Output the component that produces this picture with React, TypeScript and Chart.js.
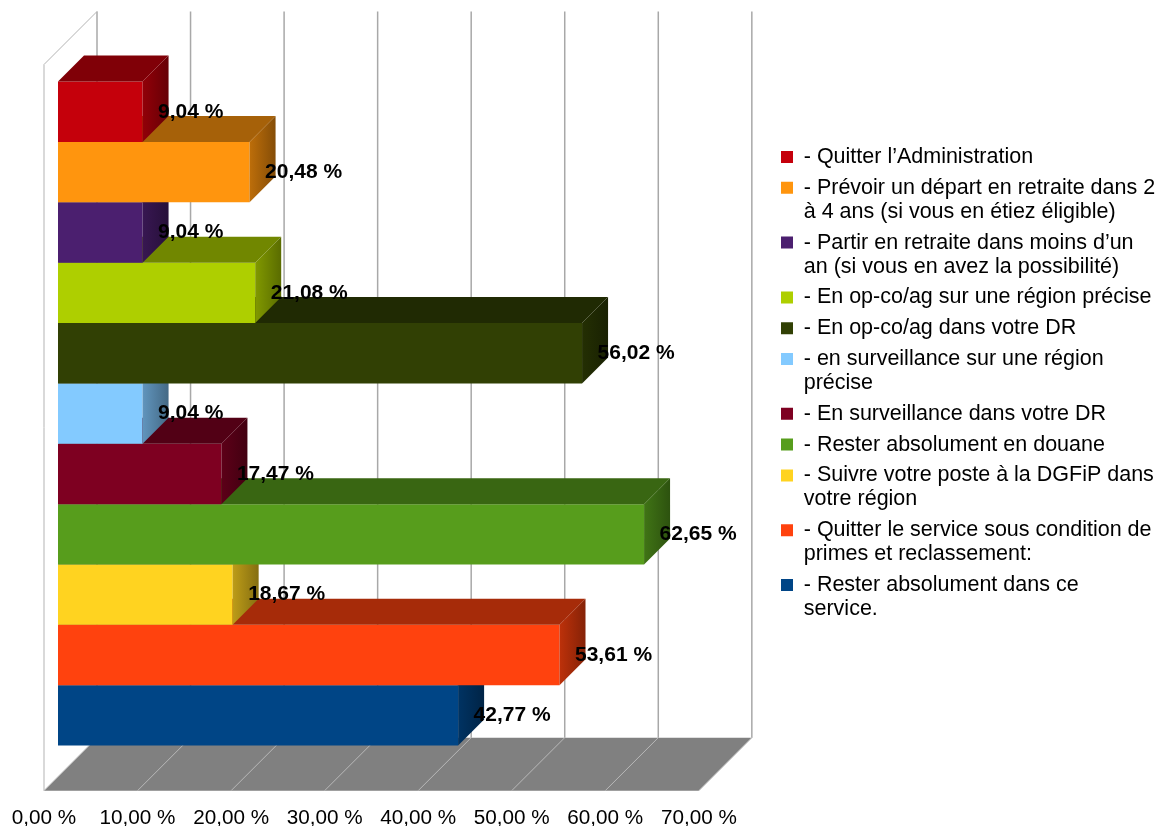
import { useEffect, useRef } from 'react';
import { Chart, registerables } from 'chart.js';

Chart.register(...registerables);

// ---- Data ----
const CATEGORIES = ['Réponses'];

const SERIES_LABELS = [
  '- Quitter l’Administration',
  '- Prévoir un départ en retraite dans 2 à 4 ans (si vous en étiez éligible)',
  '- Partir en retraite dans moins d’un an (si vous en avez la possibilité)',
  '- En op-co/ag sur une région précise',
  '- En op-co/ag dans votre DR',
  '- en surveillance sur une région précise',
  '- En surveillance dans votre DR',
  '- Rester absolument en douane',
  '- Suivre votre poste à la DGFiP dans votre région',
  '- Quitter le service sous condition de primes et reclassement:',
  '- Rester absolument dans ce service.',
];

const LEGEND_LINES = [
  ['- Quitter l’Administration'],
  ['- Prévoir un départ en retraite dans 2', 'à 4 ans (si vous en étiez éligible)'],
  ['- Partir en retraite dans moins d’un', 'an (si vous en avez la possibilité)'],
  ['- En op-co/ag sur une région précise'],
  ['- En op-co/ag dans votre DR'],
  ['- en surveillance sur une région', 'précise'],
  ['- En surveillance dans votre DR'],
  ['- Rester absolument en douane'],
  ['- Suivre votre poste à la DGFiP dans', 'votre région'],
  ['- Quitter le service sous condition de', 'primes et reclassement:'],
  ['- Rester absolument dans ce', 'service.'],
];

const SERIES_VALUES = [9.04, 20.48, 9.04, 21.08, 56.02, 9.04, 17.47, 62.65, 18.67, 53.61, 42.77];

const SERIES_COLORS = [
  '#c5000b',
  '#ff950e',
  '#4b1f6f',
  '#aecf00',
  '#314004',
  '#83caff',
  '#7e0021',
  '#579d1c',
  '#ffd320',
  '#ff420e',
  '#004586',
];

const X_TICK_MIN = 0;
const X_TICK_MAX = 70;
const X_TICK_STEP = 10;

// ---- Styling ----
const FONT = '"Liberation Sans", Arial, sans-serif';
const X_SCALE_MAX = 76.56; // room on the right of the 3D box for the legend
const BAR_DEPTH = 26;
const FRONT_DEPTH = -14;
const BACK_DEPTH = 39;
const LEGEND_FONT = 21.5;

const fmt = (v: number) => v.toFixed(2).replace('.', ',') + ' %';

function shade(hex: string, f: number) {
  const n = parseInt(hex.slice(1), 16);
  const r = Math.round(((n >> 16) & 255) * f);
  const g = Math.round(((n >> 8) & 255) * f);
  const b = Math.round((n & 255) * f);
  return `rgb(${r},${g},${b})`;
}

const off = (x: number, y: number, d: number): [number, number] => [x + d, y - d];

const framePlugin = {
  id: 'frame3d',
  beforeDatasetsDraw(chart: any) {
    const { ctx, chartArea, scales } = chart;
    const xs = scales.x;
    const top = chartArea.top;
    const bottom = chartArea.bottom;
    const x0 = xs.getPixelForValue(X_TICK_MIN);
    const xm = xs.getPixelForValue(X_TICK_MAX);
    ctx.save();
    // floor
    const f1 = off(x0, bottom, FRONT_DEPTH);
    const f2 = off(xm, bottom, FRONT_DEPTH);
    const f3 = off(xm, bottom, BACK_DEPTH);
    const f4 = off(x0, bottom, BACK_DEPTH);
    ctx.beginPath();
    ctx.moveTo(f1[0], f1[1]);
    ctx.lineTo(f2[0], f2[1]);
    ctx.lineTo(f3[0], f3[1]);
    ctx.lineTo(f4[0], f4[1]);
    ctx.closePath();
    ctx.fillStyle = '#808080';
    ctx.fill();
    // floor lines
    ctx.strokeStyle = '#b8b8b8';
    ctx.lineWidth = 1;
    for (const t of xs.ticks) {
      const p = xs.getPixelForValue(t.value);
      const a = off(p, bottom, FRONT_DEPTH);
      const b = off(p, bottom, BACK_DEPTH);
      ctx.beginPath();
      ctx.moveTo(a[0], a[1]);
      ctx.lineTo(b[0], b[1]);
      ctx.stroke();
    }
    // back wall grid lines
    ctx.strokeStyle = '#a8a8a8';
    ctx.lineWidth = 1.5;
    for (const t of xs.ticks) {
      const p = xs.getPixelForValue(t.value);
      const a = off(p, top, BACK_DEPTH);
      const b = off(p, bottom, BACK_DEPTH);
      ctx.beginPath();
      ctx.moveTo(a[0], a[1]);
      ctx.lineTo(b[0], b[1]);
      ctx.stroke();
    }
    // left wall outline
    ctx.strokeStyle = '#b3b3b3';
    ctx.lineWidth = 1;
    const l1 = off(x0, bottom, FRONT_DEPTH);
    const l2 = off(x0, top, FRONT_DEPTH);
    const l3 = off(x0, top, BACK_DEPTH);
    ctx.beginPath();
    ctx.moveTo(l1[0], l1[1]);
    ctx.lineTo(l2[0], l2[1]);
    ctx.lineTo(l3[0], l3[1]);
    ctx.stroke();
    ctx.restore();
  },
};

const barFacesPlugin = {
  id: 'barFaces3d',
  afterDatasetDraw(chart: any, args: any) {
    const { ctx } = chart;
    const meta = args.meta;
    const color = SERIES_COLORS[meta.index];
    ctx.save();
    for (const el of meta.data) {
      const xs = Math.min(el.x, el.base);
      const xe = Math.max(el.x, el.base);
      const t = el.y - el.height / 2;
      const b = el.y + el.height / 2;
      const D = BAR_DEPTH;
      // top face
      ctx.beginPath();
      ctx.moveTo(xs, t);
      ctx.lineTo(xe, t);
      ctx.lineTo(xe + D, t - D);
      ctx.lineTo(xs + D, t - D);
      ctx.closePath();
      ctx.fillStyle = shade(color, 0.65);
      ctx.fill();
      // side face
      const g = ctx.createLinearGradient(xe, 0, xe + D, 0);
      g.addColorStop(0, shade(color, 0.74));
      g.addColorStop(1, shade(color, 0.52));
      ctx.beginPath();
      ctx.moveTo(xe, t);
      ctx.lineTo(xe + D, t - D);
      ctx.lineTo(xe + D, b - D);
      ctx.lineTo(xe, b);
      ctx.closePath();
      ctx.fillStyle = g;
      ctx.fill();
    }
    ctx.restore();
  },
};

const valueLabelsPlugin = {
  id: 'valueLabels',
  afterDatasetsDraw(chart: any) {
    const { ctx } = chart;
    ctx.save();
    ctx.font = `bold 21px ${FONT}`;
    ctx.fillStyle = '#000000';
    ctx.textBaseline = 'middle';
    ctx.textAlign = 'left';
    chart.data.datasets.forEach((ds: any, i: number) => {
      const meta = chart.getDatasetMeta(i);
      meta.data.forEach((el: any, j: number) => {
        const xe = Math.max(el.x, el.base);
        ctx.fillText(fmt(ds.data[j]), xe + 15.5, el.y);
      });
    });
    ctx.restore();
  },
};

export default function App() {
  const ref = useRef<HTMLCanvasElement | null>(null);

  useEffect(() => {
    if (!ref.current) return;
    const chart = new Chart(ref.current, {
      type: 'bar',
      data: {
        labels: CATEGORIES,
        datasets: SERIES_LABELS.map((label, i) => ({
          label,
          data: [SERIES_VALUES[i]],
          backgroundColor: SERIES_COLORS[i],
          borderWidth: 0,
        })),
      },
      options: {
        indexAxis: 'y',
        responsive: false,
        animation: false,
        devicePixelRatio: 1,
        events: [],
        layout: { padding: { left: 58, top: 50.5, right: 0, bottom: -4.65 } },
        datasets: {
          bar: { categoryPercentage: 0.9145, barPercentage: 1 },
        },
        scales: {
          y: { type: 'category', display: false },
          x: {
            type: 'linear',
            min: X_TICK_MIN,
            max: X_SCALE_MAX,
            grid: { display: false, drawTicks: true, tickLength: 29 },
            border: { display: false },
            afterBuildTicks: (s: any) => {
              s.ticks = s.ticks.filter((t: any) => t.value <= X_TICK_MAX);
            },
            ticks: {
              stepSize: X_TICK_STEP,
              includeBounds: false,
              autoSkip: false,
              maxRotation: 0,
              minRotation: 0,
              labelOffset: FRONT_DEPTH,
              padding: 2.15,
              color: '#000000',
              font: { family: FONT, size: 20.7, lineHeight: 1 },
              callback: (v: any) => fmt(Number(v)),
            },
          },
        },
        plugins: {
          tooltip: { enabled: false },
          legend: {
            position: 'right',
            align: 'start',
            maxWidth: 383.8,
            title: {
              display: true,
              text: '',
              padding: { top: 0, bottom: 70.95 },
              font: { family: FONT, size: 18, lineHeight: 1 },
            },
            labels: {
              boxWidth: 12,
              boxHeight: 12,
              padding: 6.8,
              color: '#000000',
              font: { family: FONT, size: LEGEND_FONT, lineHeight: 24 / LEGEND_FONT },
              generateLabels: (c: any) =>
                Chart.defaults.plugins.legend.labels
                  .generateLabels(c)
                  .map((item: any, i: number) => ({ ...item, text: LEGEND_LINES[i] })),
            },
          },
        },
      } as any,
      plugins: [framePlugin, barFacesPlugin, valueLabelsPlugin],
    });
    return () => chart.destroy();
  }, []);

  return (
    <div style={{ position: 'fixed', left: 0, top: 0, width: 1158, height: 826, background: '#ffffff' }}>
      <canvas ref={ref} width={1158} height={826} style={{ display: 'block' }} />
    </div>
  );
}
